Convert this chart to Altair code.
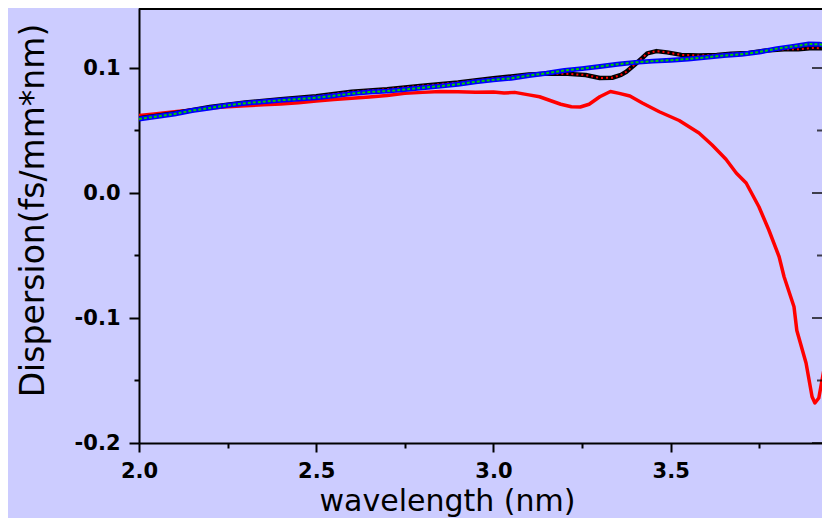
import altair as alt
import pandas as pd

# ---- data ----
red_x = [2.00, 2.05, 2.10, 2.15, 2.20, 2.25, 2.30, 2.35, 2.40, 2.45, 2.50, 2.55, 2.60, 2.65,
         2.70, 2.75, 2.80, 2.85, 2.90, 2.95, 3.00, 3.03, 3.06, 3.10, 3.13, 3.16, 3.19, 3.22,
         3.245, 3.27, 3.30, 3.33, 3.355, 3.385, 3.42, 3.468, 3.524, 3.58, 3.617, 3.656, 3.685,
         3.713, 3.749, 3.777, 3.806, 3.82, 3.848, 3.856, 3.882, 3.899, 3.907, 3.918, 3.932,
         3.941, 3.946]
red_y = [0.0620, 0.0635, 0.0650, 0.0665, 0.0680, 0.0690, 0.0698, 0.0705, 0.0712, 0.0722, 0.0735,
         0.0748, 0.0758, 0.0768, 0.0780, 0.0797, 0.0805, 0.0812, 0.0810, 0.0806, 0.0808, 0.0800,
         0.0805, 0.0785, 0.0770, 0.0740, 0.0710, 0.0690, 0.0688, 0.0710, 0.0770, 0.0812, 0.0797,
         0.0776, 0.0720, 0.0650, 0.0580, 0.0480, 0.0384, 0.0270, 0.0160, 0.0080, -0.0110,
         -0.0296, -0.0510, -0.0670, -0.0910, -0.1100, -0.1360, -0.1630, -0.1680, -0.1640,
         -0.1420, -0.1150, -0.1060]

black_x = [2.00, 2.10, 2.20, 2.30, 2.40, 2.50, 2.60, 2.70, 2.80, 2.90, 3.00, 3.05, 3.10, 3.15,
           3.20, 3.26, 3.30, 3.335, 3.36, 3.375, 3.40, 3.42, 3.434, 3.46, 3.49, 3.53, 3.58,
           3.63, 3.67, 3.72, 3.77, 3.82, 3.86, 3.90, 3.949]
black_y = [0.0598, 0.0638, 0.0688, 0.0724, 0.0750, 0.0774, 0.0810, 0.0830, 0.0858, 0.0884, 0.0918,
           0.0932, 0.0948, 0.0955, 0.0955, 0.0944, 0.0920, 0.0922, 0.0945, 0.0970, 0.1030, 0.1080,
           0.1117, 0.1135, 0.1125, 0.1105, 0.1100, 0.1105, 0.1115, 0.1120, 0.1140, 0.1150,
           0.1150, 0.1160, 0.1157]

blue_x = [2.00, 2.05, 2.10, 2.15, 2.20, 2.25, 2.30, 2.35, 2.40, 2.45, 2.50, 2.55, 2.60, 2.65,
          2.70, 2.75, 2.80, 2.85, 2.90, 2.95, 3.00, 3.05, 3.10, 3.15, 3.20, 3.25, 3.30, 3.35,
          3.40, 3.45, 3.50, 3.55, 3.60, 3.65, 3.70, 3.75, 3.80, 3.85, 3.89, 3.92, 3.949]
blue_y = [0.0592, 0.0612, 0.0632, 0.0660, 0.0680, 0.0702, 0.0718, 0.0730, 0.0742, 0.0752, 0.0762,
          0.0778, 0.0795, 0.0808, 0.0815, 0.0828, 0.0842, 0.0855, 0.0870, 0.0890, 0.0905, 0.0918,
          0.0940, 0.0958, 0.0980, 0.0995, 0.1012, 0.1030, 0.1045, 0.1055, 0.1062, 0.1072, 0.1085,
          0.1100, 0.1110, 0.1128, 0.1155, 0.1175, 0.1192, 0.1190, 0.1176]

x_major = [2.0, 2.5, 3.0, 3.5]
x_minor = [2.25, 2.75, 3.25, 3.75]
y_major = [-0.2, -0.1, 0.0, 0.1]
y_minor = [-0.15, -0.05, 0.05]

X_DOMAIN = [2.0, 3.927]
Y_DOMAIN = [-0.2, 0.148]

W, H = 683, 435

red_df = pd.DataFrame({"x": red_x, "y": red_y})
black_df = pd.DataFrame({"x": black_x, "y": black_y})
blue_df = pd.DataFrame({"x": blue_x, "y": blue_y})

xs = alt.Scale(domain=X_DOMAIN, nice=False, zero=False)
ys = alt.Scale(domain=Y_DOMAIN, nice=False, zero=False)

major_x = "abs(datum.value*2 - round(datum.value*2)) < 0.001"
major_y = "abs(datum.value*10 - round(datum.value*10)) < 0.001"

x_axis = alt.Axis(
    values=sorted(x_major + x_minor),
    title="wavelength (nm)",
    labelExpr=f"{major_x} ? format(datum.value, '.1f') : ''",
    tickSize={"condition": {"test": major_x, "value": 9}, "value": 5},
    labelPadding=8,
    labelOverlap=False,
    labelFlush=False,
    titleX=308,
    titleY=67.5,
    titleFontSize=30,
    titleBaseline="alphabetic",
    titleAlign="center",
    grid=False,
)
y_axis = alt.Axis(
    values=sorted(y_major + y_minor),
    title="Dispersion(fs/mm*nm)",
    labelExpr=f"{major_y} ? replace(format(datum.value, '.1f'), '\u2212', '-') : ''",
    tickSize={"condition": {"test": major_y, "value": 10}, "value": 5},
    labelPadding=9,
    labelOverlap=False,
    labelFlush=False,
    titleX=-106,
    titleY=202,
    titleAngle=270,
    titleBaseline="middle",
    titleAlign="center",
    titleFontSize=33,
    grid=False,
)


def line(df, color, width, dash=None):
    kw = dict(color=color, strokeWidth=width, clip=True, strokeJoin="round", strokeCap="butt")
    if dash:
        kw["strokeDash"] = dash
    return alt.Chart(df).mark_line(**kw).encode(
        x=alt.X("x:Q", scale=xs, axis=x_axis),
        y=alt.Y("y:Q", scale=ys, axis=y_axis),
    )


red = line(red_df, "#ff0000", 3.5)
black = line(black_df, "#000000", 4.5)
black_dots = line(black_df, "#ff0000", 2, [2, 3])
blue = line(blue_df, "#0000ff", 5)
blue_dots = line(blue_df, "#00cc00", 2, [3, 2])

right_major = alt.Chart(pd.DataFrame({"y": y_major})).mark_tick(
    orient="horizontal", size=20, thickness=2, color="black"
).encode(x=alt.value(W), y=alt.Y("y:Q", scale=ys, axis=y_axis))
right_minor = alt.Chart(pd.DataFrame({"y": y_minor})).mark_tick(
    orient="horizontal", size=10, thickness=2, color="black"
).encode(x=alt.value(W), y=alt.Y("y:Q", scale=ys, axis=y_axis))

top_border = alt.Chart(pd.DataFrame({"a": [0]})).mark_rule(
    color="black", strokeWidth=2
).encode(x=alt.value(0), x2=alt.value(W), y=alt.value(1))

chart = (
    alt.layer(red, black, black_dots, blue, blue_dots, right_major, right_minor, top_border)
    .properties(
        width=W,
        height=H,
        background="#ccccff",
        padding={"left": 131, "top": 0, "right": 0, "bottom": 75},
        autosize=alt.AutoSizeParams(type="none"),
    )
    .configure_view(stroke="transparent")
    .configure_axis(
        domainColor="black",
        domainWidth=2,
        tickColor="black",
        tickWidth=2,
        labelColor="black",
        titleColor="black",
        labelFont="DejaVu Sans",
        labelFontWeight="bold",
        labelFontSize=21,
        titleFont="DejaVu Sans",
        titleFontWeight="normal",
    )
)

chart.save("out.html", embed_options={"renderer": "svg", "actions": False})
